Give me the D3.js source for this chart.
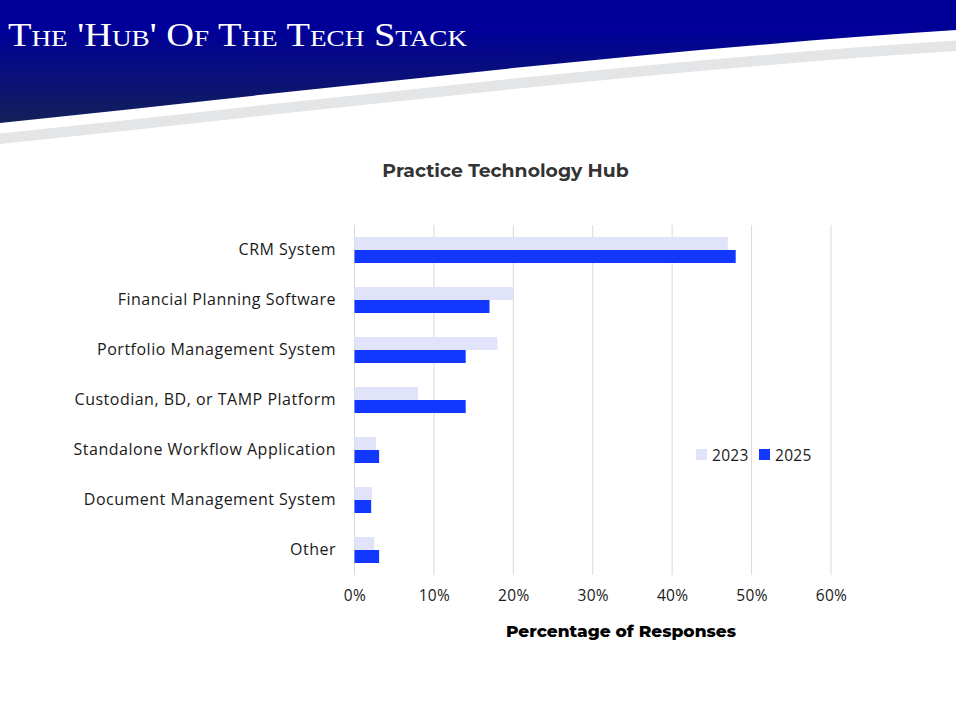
<!doctype html>
<html>
<head>
<meta charset="utf-8">
<script src="https://d3js.org/d3.v7.min.js"></script>
<style>
  body { margin: 0; background: #fff; }
  svg { display: block; }
</style>
</head>
<body>
<div class="chart"></div>
<script>
// data (percent of responses)
let categories = [
  "CRM System",
  "Financial Planning Software",
  "Portfolio Management System",
  "Custodian, BD, or TAMP Platform",
  "Standalone Workflow Application",
  "Document Management System",
  "Other"
];
let seriesNames = ["2023", "2025"];
let values2023 = [47, 20, 18, 8, 2.7, 2.2, 2.5];
let values2025 = [48, 17, 14, 14, 3.1, 2.1, 3.1];
let tickValues = [0, 10, 20, 30, 40, 50, 60];

let width = 956,
    height = 720,
    colors = { "2023": "#e0e3fa", "2025": "#1237ff" },
    labelFont = "'Open Sans', 'DejaVu Sans', sans-serif";

let svg = d3.select(".chart")
  .append("svg")
  .attr("width", width)
  .attr("height", height);

// header band
let defs = svg.append("defs");
let grad = defs.append("linearGradient")
  .attr("id", "hdr")
  .attr("gradientUnits", "userSpaceOnUse")
  .attr("x1", 0).attr("y1", 30).attr("x2", 0).attr("y2", 124);
grad.append("stop").attr("offset", 0).attr("stop-color", "#000099");
grad.append("stop").attr("offset", 1).attr("stop-color", "#122158");

// edge of the header: a gentle curve from (0,123) to (956,30)
let edge = (dy) => "M0," + (123 + dy) + " C319," + (89.5 + dy) + " 637," + (50.7 + dy) + " 956," + (30 + dy);
let edgeBack = (dy) => " L956," + (30 + dy) + " C637," + (50.7 + dy) + " 319," + (89.5 + dy) + " 0," + (123 + dy) + " Z";

svg.append("path")
  .attr("d", "M0,0 L956,0 L956,30 C637,50.7 319,89.5 0,123 Z")
  .attr("fill", "url(#hdr)");

svg.append("path")
  .attr("d", edge(10.5) + edgeBack(21))
  .attr("fill", "#e4e5e7");

svg.append("text")
  .attr("x", 8)
  .attr("y", 46)
  .attr("fill", "#fff")
  .style("font-family", "'Liberation Serif', 'DejaVu Serif', serif")
  .style("font-size", "34px")
  .style("font-variant", "small-caps")
  .attr("textLength", 459)
  .attr("lengthAdjust", "spacingAndGlyphs")
  .text("The 'Hub' Of The Tech Stack");

// chart title
svg.append("text")
  .attr("x", 505.5)
  .attr("y", 177)
  .attr("text-anchor", "middle")
  .attr("fill", "#333")
  .style("font-family", "'Montserrat', 'Inter', sans-serif")
  .style("font-weight", "700")
  .style("font-size", "18.8px")
  .text("Practice Technology Hub");

// scales
let scaleX = d3.scaleLinear().domain([0, 60]).range([354.5, 831]);
let scaleY = d3.scaleBand()
  .domain(categories)
  .range([225, 575])
  .paddingInner(0.48)
  .paddingOuter(0.24);
let scaleS = d3.scaleBand()
  .domain(seriesNames)
  .range([0, scaleY.bandwidth()]);

// gridlines
svg.append("g")
  .selectAll("line")
  .data(tickValues)
  .join("line")
  .attr("x1", d => scaleX(d)).attr("x2", d => scaleX(d))
  .attr("y1", 225).attr("y2", 575)
  .attr("stroke", "#d9d9d9")
  .attr("stroke-width", 1);

// bars
let rows = categories.map((c, i) => ({
  cat: c,
  vals: [{ s: "2023", v: values2023[i] }, { s: "2025", v: values2025[i] }]
}));

svg.append("g")
  .selectAll("g")
  .data(rows)
  .join("g")
  .attr("transform", d => "translate(0," + scaleY(d.cat) + ")")
  .selectAll("rect")
  .data(d => d.vals)
  .join("rect")
  .attr("x", scaleX(0))
  .attr("y", d => scaleS(d.s))
  .attr("width", d => scaleX(d.v) - scaleX(0))
  .attr("height", scaleS.bandwidth())
  .attr("fill", d => colors[d.s]);

// y axis (labels only)
let yAxis = d3.axisLeft(scaleY).tickSize(0).tickPadding(0);
let gy = svg.append("g")
  .attr("transform", "translate(336,0)")
  .call(yAxis);
gy.select(".domain").remove();
gy.selectAll("text")
  .attr("fill", "#1a1a1a")
  .style("font-family", labelFont)
  .style("font-size", "16px")
  .style("letter-spacing", "0.5px");

// x axis (labels only)
let xAxis = d3.axisBottom(scaleX)
  .tickValues(tickValues)
  .tickFormat(d => d + "%")
  .tickSize(0)
  .tickPadding(0);
let gx = svg.append("g")
  .attr("transform", "translate(0,590)")
  .call(xAxis);
gx.select(".domain").remove();
gx.selectAll("text")
  .attr("fill", "#1a1a1a")
  .style("font-family", labelFont)
  .style("font-size", "15.5px")
  .style("letter-spacing", "0.3px");

// axis title
svg.append("text")
  .attr("x", 621)
  .attr("y", 637)
  .attr("text-anchor", "middle")
  .attr("fill", "#000")
  .style("font-family", "'Montserrat', 'Inter', sans-serif")
  .style("font-weight", "800")
  .style("font-size", "17px")
  .text("Percentage of Responses");

// legend
let legendX = [696, 759];
let legend = svg.append("g")
  .selectAll("g")
  .data(seriesNames)
  .join("g")
  .attr("transform", (d, i) => "translate(" + legendX[i] + ",449)");
legend.append("rect")
  .attr("width", 11).attr("height", 11)
  .attr("fill", d => colors[d]);
legend.append("text")
  .attr("x", 16)
  .attr("y", 11.5)
  .attr("fill", "#1a1a1a")
  .style("font-family", labelFont)
  .style("font-size", "15.5px")
  .style("letter-spacing", "0.3px")
  .text(d => d);
</script>
</body>
</html>
